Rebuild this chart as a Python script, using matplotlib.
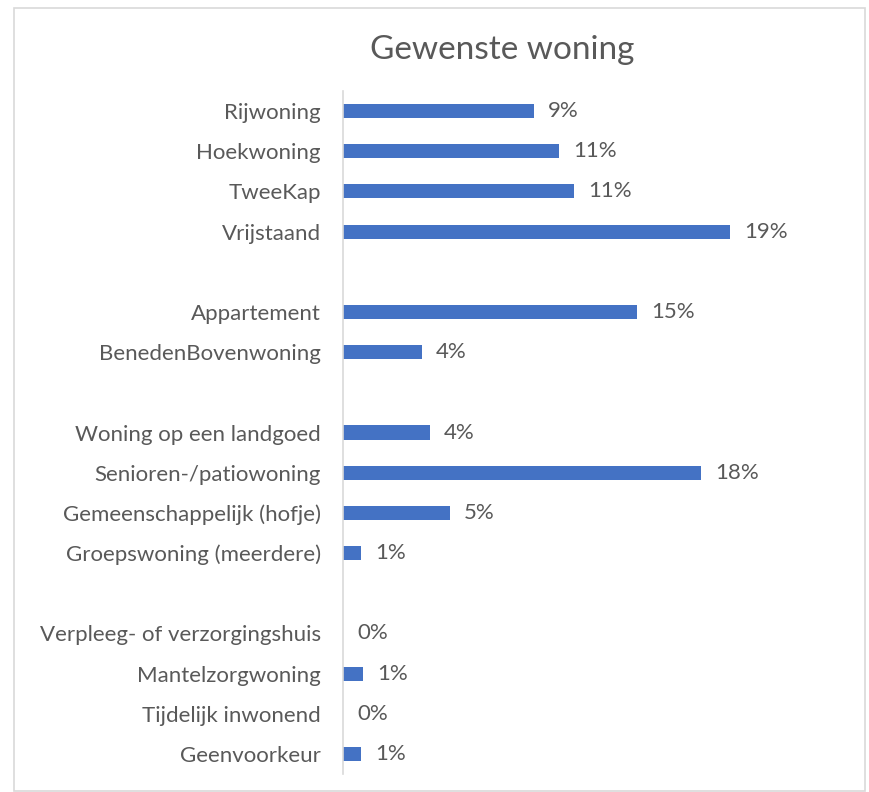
import numpy as np
import matplotlib
matplotlib.use("Agg")
import matplotlib.pyplot as plt
from matplotlib.patches import Rectangle

plt.rcParams['font.family'] = ['Lato', 'DejaVu Sans']

# rows from top to bottom; empty strings are the gaps between groups
categories = ["Rijwoning", "Hoekwoning", "TweeKap", "Vrijstaand", "",
              "Appartement", "BenedenBovenwoning", "",
              "Woning op een landgoed", "Senioren-/patiowoning",
              "Gemeenschappelijk (hofje)", "Groepswoning (meerdere)", "",
              "Verpleeg- of verzorgingshuis", "Mantelzorgwoning",
              "Tijdelijk inwonend", "Geenvoorkeur"]
values = [9.46, 10.68, 11.44, 19.16, None,
          14.54, 3.91, None,
          4.31, 17.71, 5.30, 0.89, None,
          0.0, 0.99, 0.0, 0.89]

W, H, DPI = 869, 792, 100
fig = plt.figure(figsize=(W / DPI, H / DPI), dpi=DPI)
fig.patch.set_facecolor("white")

# light chart frame
fig.add_artist(Rectangle((14 / W, 1 / H), (865 - 14) / W, (784 - 1) / H,
                         transform=fig.transFigure, fill=False,
                         edgecolor="#d9d9d9", linewidth=1.2))

left, right, top, bottom = 343, 840, 91, 774
ax = fig.add_axes([left / W, (H - bottom) / H, (right - left) / W, (bottom - top) / H])

px_per_unit = 20.2
ax.set_xlim(0, (right - left) / px_per_unit)
n = len(categories)
ypos = np.arange(n)
ax.set_ylim(n - 0.5, -0.5)

txt = "#595959"
for y, v in zip(ypos, values):
    if v is None:
        continue
    ax.barh(y, v, height=0.35, color="#4472C4", edgecolor="none")
    ax.annotate(f"{round(v):.0f}%", (v, y), xytext=(14, 0), textcoords="offset pixels",
                ha="left", va="center", fontsize=16, color=txt)

ax.set_yticks(ypos)
ax.set_yticklabels(categories, fontsize=16, color=txt)
ax.tick_params(axis="y", length=0, pad=16)
ax.set_xticks([])
for s in ["top", "right", "bottom"]:
    ax.spines[s].set_visible(False)
ax.spines["left"].set_color("#d9d9d9")
ax.spines["left"].set_linewidth(1.2)

fig.text(502 / W, 1 - 50 / H, "Gewenste woning", ha="center", va="center",
         fontsize=24, color=txt)

fig.savefig("out.png", dpi=DPI)
